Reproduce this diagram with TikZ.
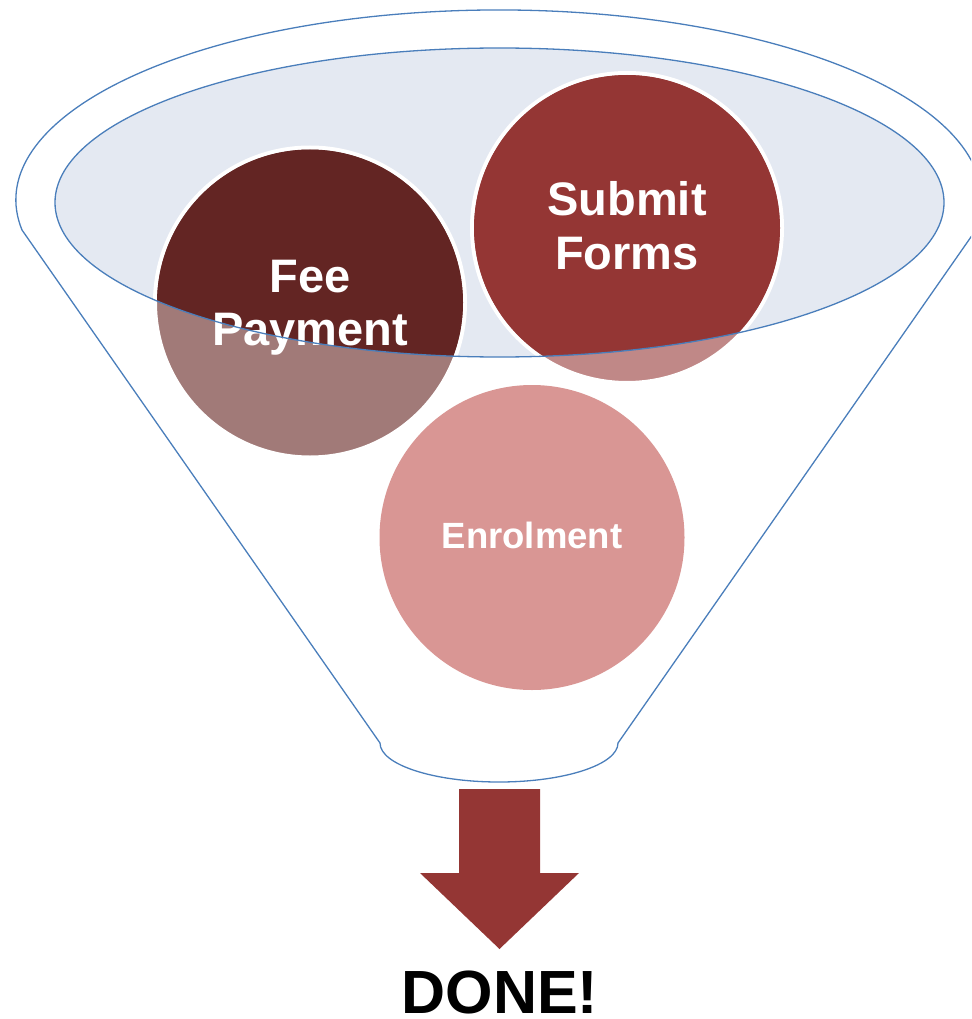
\documentclass[tikz,border=0pt]{standalone}
\usepackage{fontspec}
\setmainfont{Liberation Sans}
\definecolor{rimblue}{HTML}{4A7EBB}
\definecolor{bowl}{HTML}{E4E9F2}
\definecolor{feedark}{HTML}{632523}
\definecolor{feefade}{HTML}{A17A78}
\definecolor{subdark}{HTML}{943634}
\definecolor{subfade}{HTML}{C08887}
\definecolor{enrol}{HTML}{D99694}
\begin{document}
\begin{tikzpicture}[x=1pt,y=-1pt,
  rim/.style={draw=rimblue,line width=1.3pt},
  ball/.style={circle,minimum size=310pt,inner sep=0pt,draw=white,line width=4pt},
  bigtxt/.style={text=white,font=\bfseries\fontsize{47}{53}\selectfont,anchor=base,inner sep=0pt},
  midtxt/.style={text=white,font=\bfseries\fontsize{36.5}{42}\selectfont,anchor=base,inner sep=0pt}]
\useasboundingbox (0,0) rectangle (971,1019);
\begin{scope}
\clip (0,0) rectangle (971,1019);
% outer funnel outline
\draw[rim] (22,230) arc[start angle=170.9,end angle=369.1,x radius=483,y radius=190]
  -- (618,743) arc[start angle=0,end angle=180,x radius=119,y radius=39] -- cycle;
\end{scope}
% inner bowl
\coordinate (bowlc) at (499.5,202.5);
\fill[bowl] (bowlc) ellipse[x radius=444.5,y radius=154.5];
% circles (faded colour outside the bowl)
\node[ball,fill=feefade] (fee) at (310,302.5) {};
\node[ball,fill=subfade] (sub) at (627,228) {};
\node[ball,fill=enrol,draw=none,minimum size=305pt] (enr) at (532,537.5) {};
\begin{scope}
\clip (bowlc) ellipse[x radius=444.5,y radius=154.5];
\fill[feedark] (fee.center) circle[radius=153];
\fill[subdark] (sub.center) circle[radius=153];
\end{scope}
% texts
\node[bigtxt] (fee1) at (310,292) {Fee};
\node[bigtxt] (fee2) at (310,345) {Payment};
\node[bigtxt] (sub1) at (627,215) {Submit};
\node[bigtxt] (sub2) at (627,269) {Forms};
\node[midtxt] (enr1) at (532,548) {Enrolment};
\draw[rim] (bowlc) ellipse[x radius=444.5,y radius=154.5];
% arrow
\fill[subdark] (459,789) -- (540,789) -- (540,873) -- (579,873) -- (499.5,949) -- (420,873) -- (459,873) -- cycle;
\node[font=\bfseries\fontsize{61}{70}\selectfont,anchor=base,inner sep=0pt] (done) at (500,1013) {DONE!};
\end{tikzpicture}
\end{document}
